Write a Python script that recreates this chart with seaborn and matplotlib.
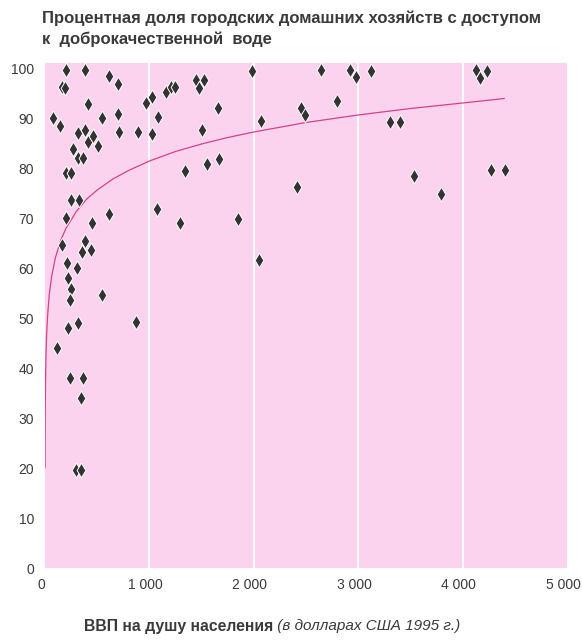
import numpy as np
import pandas as pd
import matplotlib.pyplot as plt
import matplotlib.transforms as mtransforms
import seaborn as sns

# ==================================================
# DATA
# ==================================================

gdp_per_capita = [
    200, 381, 610, 695, 162, 190, 410, 76, 143, 543,
    695, 705, 314, 381, 410, 457, 505, 267, 314, 362,
    200, 248, 248, 324, 200, 610, 448, 381, 162, 352,
    438, 895, 971, 1029, 1029, 1086, 1162, 1210, 1248, 1448,
    1476, 1524, 1505, 1076, 1343, 1552, 1295, 1657, 1667,
    210, 305, 219, 248, 238, 543, 219, 314, 876, 114,
    238, 362, 343, 295, 343,
    1981, 2648, 2924, 2981, 3124, 4124, 4171, 4229, 2067, 2448,
    2495, 2800, 3305, 3400, 2410, 1848, 2048, 3533, 3790, 4276,
    4410
]

water_access = [
    99.6, 99.6, 98.4, 96.8, 96.2, 96.0, 92.8, 90.0, 88.4, 90.0,
    90.8, 87.2, 87.0, 87.6, 85.2, 86.4, 84.4, 83.8, 82.0, 82.0,
    79.0, 79.0, 73.6, 73.6, 70.0, 70.8, 69.0, 65.5, 64.6, 63.2,
    63.6, 87.2, 93.0, 94.2, 86.8, 90.2, 95.2, 96.2, 96.2, 97.6,
    96.0, 97.6, 87.6, 71.8, 79.4, 80.8, 69.0, 92.0, 81.8,
    61.0, 60.0, 58.0, 55.8, 53.6, 54.6, 48.0, 49.0, 49.2, 44.0,
    38.0, 38.0, 34.0, 19.6, 19.6,
    99.4, 99.6, 99.6, 98.2, 99.4, 99.6, 98.0, 99.4, 89.4, 92.0,
    90.6, 93.4, 89.2, 89.2, 76.2, 69.8, 61.6, 78.4, 74.8, 79.6,
    79.6
]

# trend curve
trend_gdp = [0.6, 1, 2, 3, 5, 8, 12, 16, 25, 40,
             64, 100, 150, 200, 300, 400, 500, 650, 800, 1000,
             1250, 1500, 1750, 2000, 2500, 3000, 3500, 4000, 4400]
trend_water = [20.0, 23.6, 29.4, 32.8, 37.1, 41.0, 44.4, 46.8, 50.5, 54.5,
               58.4, 62.1, 65.5, 67.9, 71.3, 73.8, 75.6, 77.8, 79.5, 81.4,
               83.3, 84.8, 86.1, 87.2, 89.1, 90.6, 91.9, 93.0, 93.9]

x_ticks = [0, 1000, 2000, 3000, 4000, 5000]
x_tick_labels = ["0", "1 000", "2 000", "3 000", "4 000", "5 000"]
y_ticks = [0, 10, 20, 30, 40, 50, 60, 70, 80, 90, 100]

title = ("Процентная доля городских домашних хозяйств с доступом\n"
         "к  доброкачественной  воде")
xlabel_bold = "ВВП на душу населения"
xlabel_italic = " (в долларах США 1995 г.)"

points = pd.DataFrame({"gdp": gdp_per_capita, "water": water_access})
trend = pd.DataFrame({"gdp": trend_gdp, "water": trend_water})

# ==================================================
# STYLE
# ==================================================

PINK = "#fbd3ef"
TEXT = "#3a3a3a"

sns.set_style("white")
plt.rcParams["font.family"] = ["Liberation Sans", "DejaVu Sans"]

fig = plt.figure(figsize=(5.82, 6.44), dpi=100)
ax = fig.add_axes([45 / 582, 1 - 568 / 644, 522 / 582, 505 / 644])
ax.set_facecolor(PINK)

# ==================================================
# PLOT
# ==================================================

sns.lineplot(
    data=trend,
    x="gdp",
    y="water",
    color="#d4418c",
    linewidth=0.9,
    ax=ax,
    zorder=2
)

sns.scatterplot(
    data=points,
    x="gdp",
    y="water",
    marker="d",
    s=55,
    color="#333333",
    edgecolor="white",
    linewidth=0.7,
    ax=ax,
    zorder=3
)

ax.set_xlim(0, 5000)
ax.set_ylim(0, 101)

ax.set_xticks(x_ticks)
ax.set_xticklabels(x_tick_labels)
ax.set_yticks(y_ticks)

ax.grid(False)
for xv in x_ticks[1:-1]:
    ax.axvline(xv, color="white", linewidth=1.5, alpha=0.9, zorder=1)

for side in ["top", "right", "left", "bottom"]:
    ax.spines[side].set_visible(False)

ax.tick_params(axis="x", length=0, pad=7, labelsize=10, labelcolor=TEXT)
ax.tick_params(axis="y", direction="in", length=6, width=1.1,
               color="#333333", pad=8, labelsize=10, labelcolor=TEXT)

# nudge x tick labels a little to the left, as in the print
shift = mtransforms.ScaledTranslation(-4 / 100, 0, fig.dpi_scale_trans)
for lbl in ax.get_xticklabels():
    lbl.set_transform(lbl.get_transform() + shift)

ax.set_xlabel("")
ax.set_ylabel("")

# ==================================================
# TEXT
# ==================================================

fig.text(42 / 582, 1 - 10 / 644, title, ha="left", va="top",
         fontsize=12, fontweight="bold", color=TEXT, linespacing=1.45)

fig.text(273 / 582, 1 - 626 / 644, xlabel_bold, ha="right", va="center",
         fontsize=11.3, fontweight="bold", color=TEXT)
fig.text(273 / 582, 1 - 626 / 644, xlabel_italic, ha="left", va="center",
         fontsize=11, fontstyle="italic", color=TEXT)

fig.savefig("out.png", dpi=100)
